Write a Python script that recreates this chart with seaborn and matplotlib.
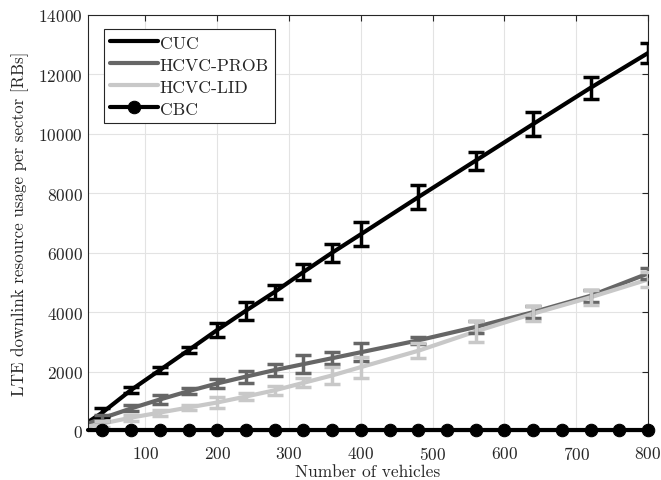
import numpy as np
import pandas as pd
import matplotlib
matplotlib.use("Agg")
import matplotlib.pyplot as plt
import seaborn as sns

# Data
vehicles = [20, 40, 80, 120, 160, 200, 240, 280, 320, 360, 400, 480, 560, 640, 720, 800]
cuc_mean = [300, 620, 1380, 2050, 2720, 3400, 4050, 4680, 5350, 6000, 6620, 7870, 9100, 10330, 11550, 12720]
cuc_err = [0, 150, 100, 100, 100, 250, 300, 250, 280, 300, 400, 400, 300, 400, 380, 350]
prob_mean = [250, 430, 760, 1060, 1340, 1600, 1830, 2050, 2250, 2450, 2650, 3050, 3500, 4000, 4550, 5300]
prob_err = [0, 100, 100, 150, 100, 150, 200, 200, 300, 200, 300, 120, 200, 200, 200, 200]
lid_mean = [150, 250, 450, 620, 790, 960, 1160, 1370, 1620, 1870, 2150, 2700, 3350, 3950, 4500, 5100]
lid_err = [0, 100, 100, 100, 100, 200, 120, 150, 150, 300, 350, 250, 350, 250, 250, 250]
cbc_x = [20] + list(range(40, 801, 40))
cbc_y = [40] * len(cbc_x)

series = [
    ("CUC", cuc_mean, cuc_err, "#000000"),
    ("HCVC-PROB", prob_mean, prob_err, "#666666"),
    ("HCVC-LID", lid_mean, lid_err, "#c8c8c8"),
]

sns.set_style("whitegrid")
plt.rcParams["font.family"] = ["cmr10", "DejaVu Serif"]
plt.rcParams["axes.formatter.use_mathtext"] = True
plt.rcParams["mathtext.fontset"] = "cm"

fig = plt.figure(figsize=(6.61, 4.81), dpi=100)
# axes box: x 88..648 px, y 16..432 px
ax = fig.add_axes([88 / 661, 1 - 432 / 481, 560 / 661, 416 / 481])

for name, mean, err, color in series:
    df = pd.DataFrame({"x": vehicles, "y": mean})
    sns.lineplot(data=df, x="x", y="y", ax=ax, color=color, linewidth=3, label=name)
    ax.errorbar(vehicles[1:], mean[1:], yerr=err[1:], fmt="none", ecolor=color,
                elinewidth=2.5, capsize=6, capthick=2.5, zorder=3)

cbc = pd.DataFrame({"x": cbc_x, "y": cbc_y})
sns.lineplot(data=cbc, x="x", y="y", ax=ax, color="black", linewidth=3,
             marker="o", markersize=9, markeredgecolor="black",
             markevery=list(range(1, len(cbc_x))), label="CBC", zorder=4)
ax.get_lines()[-1].set_clip_on(False)

ax.set_xlim(20, 800)
ax.set_ylim(0, 14000)
ax.set_xticks(range(100, 801, 100))
ax.set_yticks(range(0, 14001, 2000))
ax.grid(True, color="#e3e3e3", linewidth=0.8)
ax.tick_params(direction="in", length=4, labelsize=12.5, top=True, right=True, color="#262626")
ax.tick_params(axis="x", pad=10)
ax.tick_params(axis="y", pad=4)
for s in ax.spines.values():
    s.set_color("#262626")
    s.set_linewidth(0.8)

ax.set_xlabel("Number of vehicles", fontsize=12.5, labelpad=1)
ax.set_ylabel("LTE downlink resource usage per sector [RBs]", fontsize=12.2, labelpad=6)

leg = ax.legend(loc="upper left", bbox_to_anchor=(16 / 560, 1 - 14 / 416), borderaxespad=0,
                fontsize=12.7, handlelength=2.7, handletextpad=0.1, borderpad=0.35,
                labelspacing=0.38, fancybox=False, framealpha=1, edgecolor="#262626")
leg.get_frame().set_linewidth(0.8)

fig.savefig("out.png", dpi=100)
